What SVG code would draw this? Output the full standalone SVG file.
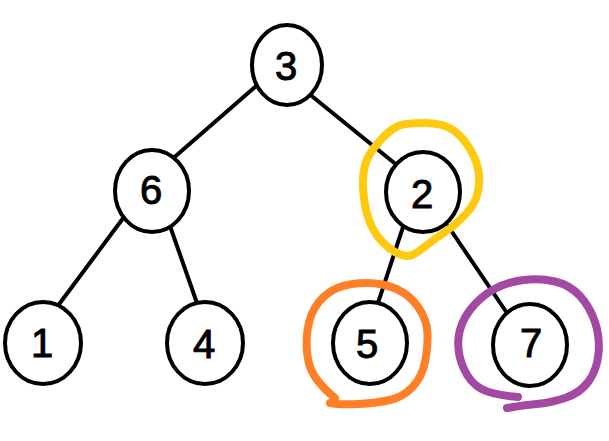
<svg xmlns="http://www.w3.org/2000/svg" width="609" height="441" viewBox="0 0 609 441">
<style>
.edge{stroke:#000;stroke-width:4;stroke-linecap:round;fill:none}
.node ellipse{fill:#fff;stroke:#000;stroke-width:4}
.node text{font-family:"Liberation Sans",Arial,sans-serif;font-size:40px;fill:#000;stroke:#000;stroke-width:1;text-anchor:middle}
.mark{fill:none;stroke-width:8;stroke-linecap:round;stroke-linejoin:round}
</style>
<rect width="609" height="441" fill="#fff"/>
<g id="connectors">
<line class="edge" x1="262" y1="81" x2="170" y2="161"/>
<line class="edge" x1="308" y1="93" x2="398" y2="166"/>
<line class="edge" x1="124" y1="217" x2="57" y2="307"/>
<line class="edge" x1="170" y1="226" x2="198" y2="306"/>
<line class="edge" x1="404" y1="224" x2="377" y2="306"/>
<line class="edge" x1="448" y1="226" x2="507" y2="313"/>
</g>
<g id="node-3" class="node"><ellipse cx="287" cy="65" rx="35" ry="40"/><text x="286" y="80">3</text></g>
<g id="node-6" class="node"><ellipse cx="152" cy="191" rx="37" ry="41"/><text x="151" y="204">6</text></g>
<g id="node-2" class="node"><ellipse cx="423" cy="192" rx="37" ry="40"/><text x="422" y="208">2</text></g>
<g id="node-1" class="node"><ellipse cx="43" cy="343" rx="38" ry="41"/><text x="42" y="357">1</text></g>
<g id="node-4" class="node"><ellipse cx="205" cy="343" rx="38" ry="41"/><text x="204" y="358">4</text></g>
<g id="node-5" class="node"><ellipse cx="370" cy="343" rx="37" ry="41"/><text x="367" y="358">5</text></g>
<g id="node-7" class="node"><ellipse cx="530" cy="345" rx="37" ry="41"/><text x="531" y="357">7</text></g>
<g id="annotations">
<path class="mark" stroke="#FFC90E" d="M424.5,123 Q443,123 453,130 Q463,137 470.5,150 Q478,163 479,175 Q480,187 476.5,197 Q473,207 463,217 Q453,227 443,233.5 Q433,240 425,246.5 Q417,253 412,255 Q407,257 400,254.5 Q393,252 385,244.5 Q377,237 372,227 Q367,217 364.5,202 Q362,187 363.5,173.5 Q365,160 372.5,150 Q380,140 386.5,134 Q393,128 399.5,125.5 Q406,123 424.5,123 Z"/>
<path class="mark" stroke="#FF7F27" d="M335,398 Q313,380 309,363.5 Q305,347 307.5,330 Q310,313 318.5,302.5 Q327,292 338.5,287.5 Q350,283 366.5,283 Q383,283 396.5,289 Q410,295 418.5,307.5 Q427,320 427.5,333.5 Q428,347 425,362 Q422,377 412.5,387 Q403,397 390,400 Q377,403 358.5,404 Q340,405 330,403"/>
<path class="mark" stroke="#A349A4" d="M518,397 Q493,395 481.5,389 Q470,383 463.5,368 Q457,353 458.5,338 Q460,323 470,310 Q480,297 493.5,289.5 Q507,282 523.5,280 Q540,278 555,281.5 Q570,285 580,296 Q590,307 595,322 Q600,337 598.5,353.5 Q597,370 588.5,381.5 Q580,393 565,398 Q550,403 536.5,404 Q523,405 507,408"/>
</g>
</svg>
